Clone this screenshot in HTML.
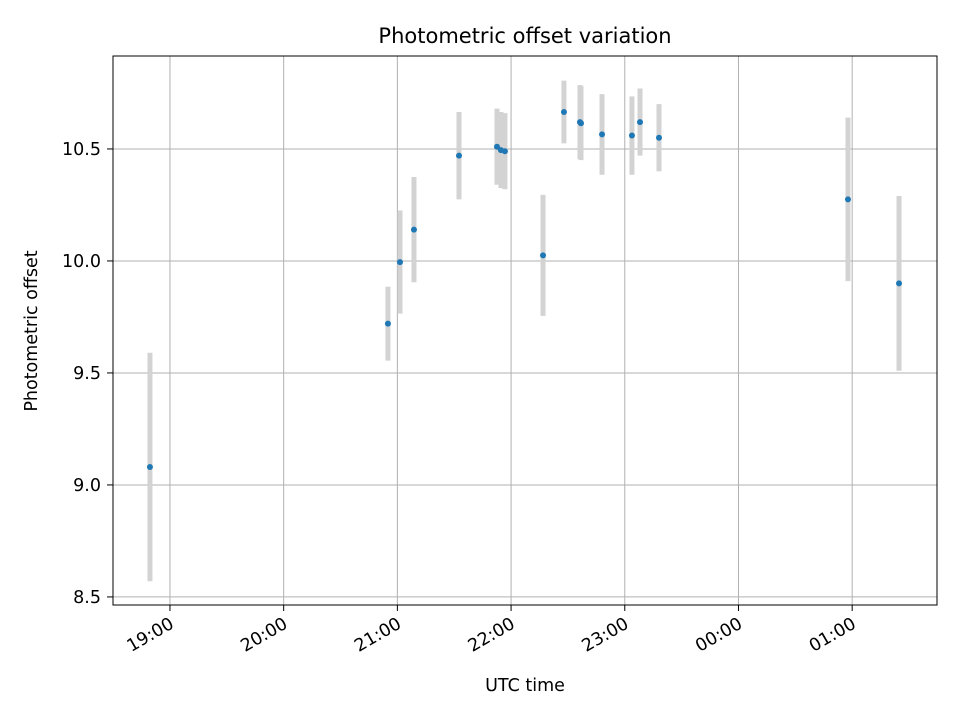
<!DOCTYPE html>
<html><head><meta charset="utf-8"><style>
html,body{margin:0;padding:0;background:#fff}
svg text{font-family:"DejaVu Sans","Liberation Sans",sans-serif;fill:#000}
</style></head><body>
<svg id="chart" width="960" height="720" viewBox="0 0 960 720" xmlns="http://www.w3.org/2000/svg">
<rect width="960" height="720" fill="#fff"/>
<text x="525" y="43" font-size="21" text-anchor="middle">Photometric offset variation</text>
<g id="grid"></g><g id="errs"></g><g id="pts"></g><g id="axes"></g>
<rect x="113" y="56" width="824" height="549" fill="none" stroke="#000" stroke-width="1"/>
<text x="525" y="691" font-size="17.5" text-anchor="middle">UTC time</text>
<text x="0" y="0" font-size="17.5" text-anchor="middle" transform="translate(37,331) rotate(-90)">Photometric offset</text>
</svg>
<script>
const times=[18.824,20.917,21.023,21.146,21.542,21.876,21.911,21.946,22.281,22.465,22.606,22.615,22.800,23.063,23.134,23.301,24.963,25.412];
const offsets=[9.08,9.72,9.995,10.14,10.47,10.51,10.495,10.49,10.025,10.665,10.62,10.615,10.565,10.56,10.62,10.55,10.275,9.90];
const errors=[0.51,0.165,0.23,0.235,0.195,0.17,0.17,0.17,0.27,0.14,0.165,0.165,0.18,0.175,0.15,0.15,0.365,0.39];
const xTicks=[19,20,21,22,23,24,25];
const xTickLabels=["19:00","20:00","21:00","22:00","23:00","00:00","01:00"];
const yTicks=[8.5,9.0,9.5,10.0,10.5];
const yTickLabels=["8.5","9.0","9.5","10.0","10.5"];
const L=113,R=937,T=56,B=605;
const x0=18.499,x1=25.746,y0=8.464,y1=10.915;
const sx=v=>L+(v-x0)/(x1-x0)*(R-L);
const sy=v=>B-(v-y0)/(y1-y0)*(B-T);
const NS="http://www.w3.org/2000/svg";
function mk(tag,attrs,parent){const e=document.createElementNS(NS,tag);for(const k in attrs)e.setAttribute(k,attrs[k]);document.getElementById(parent).appendChild(e);return e;}
xTicks.forEach((t,i)=>{const x=sx(t);
 const g=mk('line',{x1:x,x2:x,y1:T,y2:B,stroke:'#b0b0b0','stroke-width':1},'grid');
 
 const tk=mk('line',{x1:x,x2:x,y1:B,y2:B+6,stroke:'#000'},'axes');
 
 const tx=mk('text',{x:0,y:0,'font-size':17.5,'text-anchor':'end',transform:`translate(${x+5},${B+22}) rotate(-30)`},'axes');
 tx.textContent=xTickLabels[i];
 
});
yTicks.forEach((t,i)=>{const y=sy(t);
 const g=mk('line',{x1:L,x2:R,y1:y,y2:y,stroke:'#b0b0b0','stroke-width':1},'grid');
 
 const tk=mk('line',{x1:L-6,x2:L,y1:y,y2:y,stroke:'#000'},'axes');
 
 const tx=mk('text',{x:L-12,y:y+6,'font-size':17.5,'text-anchor':'end'},'axes');
 tx.textContent=yTickLabels[i];
 
});
times.forEach((t,i)=>{const x=sx(t);
 const e=mk('line',{x1:x,x2:x,y1:sy(offsets[i]+errors[i]),y2:sy(offsets[i]-errors[i]),stroke:'#d3d3d3','stroke-width':5},'errs');
 
 const c=mk('circle',{cx:x,cy:sy(offsets[i]),r:3,fill:'#1f77b4'},'pts');
 
});
</script>
</body></html>
